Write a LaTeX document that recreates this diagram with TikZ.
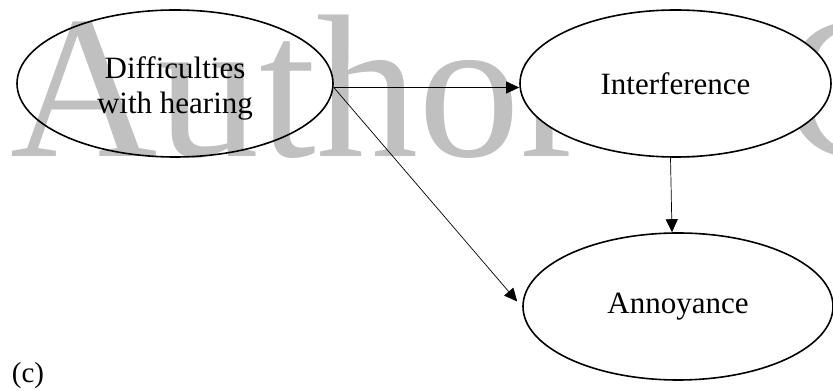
\documentclass[tikz,border=0pt]{standalone}
\usepackage{fontspec}
\setmainfont{Liberation Serif}
\usetikzlibrary{shapes.geometric,arrows.meta}
\definecolor{wmgray}{RGB}{192,192,192}
\begin{document}
\begin{tikzpicture}[x=1pt,y=1pt,
  oval/.style={ellipse, draw=black, line width=1.6pt, inner sep=0pt,
    minimum height=147pt, align=center,
    font=\fontsize{31}{35}\selectfont},
  caption/.style={inner sep=0pt, align=center,
    font=\fontsize{31}{35}\selectfont},
  conn/.style={draw=black, line width=0.7pt,
    -{Triangle[length=13pt,width=12pt]}}]
\useasboundingbox (0,0) rectangle (833,391);
% background watermark
\node[anchor=base west, inner sep=0pt, text=wmgray,
  font=\fontsize{204}{204}\selectfont] (wm) at (10,234) {Author's Copy};
% variables
\node[oval, minimum width=316pt] (d) at (175,307.5) {};
\node[caption] (dt) at ([yshift=-5pt]d.center) {Difficulties\\with hearing};
\node[oval, fill=white, minimum width=311pt] (i) at (675.5,307.5) {Interference};
\node[oval, fill=white, minimum width=310pt] (a) at (678,84.5) {Annoyance};
% paths
\draw[conn] ([yshift=-4pt]d.east) -- ([yshift=-4pt]i.west);
\draw[conn] ([yshift=-4pt]d.east) -- ([shift={(-5pt,5pt)}]a.west);
\draw[conn] ([xshift=-5pt]i.south) -- ([xshift=-6pt]a.north);
% panel label
\node[inner sep=0pt, font=\fontsize{29}{33}\selectfont] (lab) at (28,15) {(c)};
\end{tikzpicture}
\end{document}
